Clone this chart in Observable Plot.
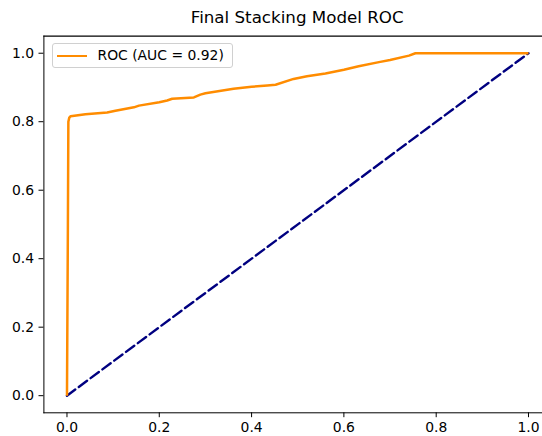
<!DOCTYPE html>
<html>
<head>
<meta charset="utf-8">
<script src="https://cdn.jsdelivr.net/npm/d3@7"></script>
<script src="https://cdn.jsdelivr.net/npm/@observablehq/plot@0.6"></script>
<style>
  html, body { margin: 0; padding: 0; background: #fff; overflow: hidden; }
  #wrap { position: relative; width: 542px; height: 436px; font-family: "DejaVu Sans", sans-serif; }
  #title { position: absolute; left: 43.4px; width: 507.6px; top: 7px; text-align: center; font-size: 16.7px; line-height: 20px; color: #000; white-space: nowrap; }
  #legend { position: absolute; left: 51.5px; top: 43.3px; width: 179px; height: 23px; border: 1px solid #d0d0d0; border-radius: 3px; background: rgba(255,255,255,0.8); }
  #legend .sw { position: absolute; left: 4px; top: 10.3px; width: 30px; height: 2.5px; background: #ff8c00; }
  #legend .lb { position: absolute; left: 45px; top: 2px; font-size: 13.9px; line-height: 18px; color: #000; white-space: nowrap; }
  #chart { position: absolute; left: 0; top: 0; }
</style>
</head>
<body>
<div id="wrap">
  <div id="chart"></div>
  <div id="title"></div>
  <div id="legend"><div class="sw"></div><div class="lb"></div></div>
</div>
<script>
const titleText = "Final Stacking Model ROC";
const legendLabel = "ROC (AUC = 0.92)";
const fpr = [0, 0.002, 0.003, 0.005, 0.008, 0.04, 0.087, 0.105, 0.145, 0.156, 0.2, 0.217, 0.228, 0.275, 0.289, 0.30, 0.361, 0.40, 0.434, 0.452, 0.491, 0.52, 0.56, 0.60, 0.632, 0.676, 0.70, 0.741, 0.755, 1.0];
const tpr = [0, 0.50, 0.80, 0.812, 0.816, 0.822, 0.827, 0.832, 0.842, 0.847, 0.857, 0.862, 0.867, 0.871, 0.879, 0.883, 0.896, 0.902, 0.906, 0.908, 0.925, 0.933, 0.941, 0.952, 0.962, 0.974, 0.980, 0.993, 1.0, 1.0];
const diagX = [0, 1];
const diagY = [0, 1];
const tickValues = [0, 0.2, 0.4, 0.6, 0.8, 1.0];

const roc = fpr.map((f, i) => ({fpr: f, tpr: tpr[i]}));
const diag = diagX.map((d, i) => ({x: d, y: diagY[i]}));

document.getElementById("title").textContent = titleText;
document.querySelector("#legend .lb").textContent = legendLabel;

const W = 542, H = 436;
const mL = 43.4, mT = 35.6, mB = H - 412.3;
const xMax = (W - 66.5) / 461.5;

const chart = Plot.plot({
  width: W,
  height: H,
  marginLeft: mL,
  marginRight: 0,
  marginTop: mT,
  marginBottom: mB,
  style: {fontFamily: "DejaVu Sans, sans-serif", fontSize: "13.9px", color: "#000", background: "#fff"},
  x: {domain: [-0.05, xMax], ticks: tickValues, tickFormat: d3.format(".1f"), tickSize: 4.9, tickPadding: 4.0, label: null, line: true},
  y: {domain: [-0.05, 1.05], ticks: tickValues, tickFormat: d3.format(".1f"), tickSize: 4.9, tickPadding: 4.9, label: null, line: true},
  marks: [
    Plot.frame({anchor: "top", stroke: "#000", strokeWidth: 1.1}),
    Plot.line(diag, {x: "x", y: "y", stroke: "#000080", strokeWidth: 2.4, strokeDasharray: "10.3,4.4"}),
    Plot.line(roc, {x: "fpr", y: "tpr", stroke: "#ff8c00", strokeWidth: 2.5, strokeLinejoin: "round", strokeLinecap: "butt"})
  ]
});
document.getElementById("chart").appendChild(chart);
</script>
</body>
</html>
